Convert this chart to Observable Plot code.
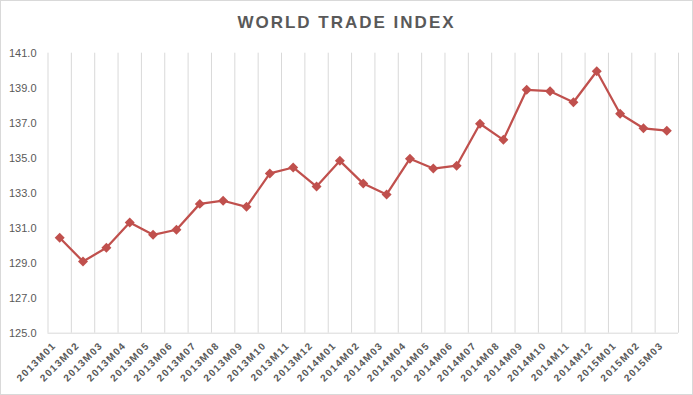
<!DOCTYPE html>
<html>
<head>
<meta charset="utf-8">
<script src="https://cdn.jsdelivr.net/npm/d3@7"></script>
<script src="https://cdn.jsdelivr.net/npm/@observablehq/plot@0.6"></script>
<style>
  html, body { margin: 0; padding: 0; background: #fff; }
  #wrap { position: relative; width: 693px; height: 395px; overflow: hidden; background: #fff; }
  #frame { position: absolute; left: 0; top: 0; width: 691px; height: 393px; border: 1px solid #d9d9d9; }
  #title { position: absolute; left: 0; top: 13px; width: 693px; text-align: center;
           font-family: "Liberation Sans", Arial, sans-serif; font-weight: bold; font-size: 17px;
           line-height: 20px; letter-spacing: 2px; color: #595959; }
  #chart { position: absolute; left: 0; top: 40px; }
</style>
</head>
<body>
<div id="wrap">
  <div id="frame"></div>
  <div id="title"></div>
  <div id="chart"></div>
</div>
<script>
const title = "WORLD TRADE INDEX";
const months = [
  "2013M01","2013M02","2013M03","2013M04","2013M05","2013M06","2013M07","2013M08","2013M09",
  "2013M10","2013M11","2013M12","2014M01","2014M02","2014M03","2014M04","2014M05","2014M06",
  "2014M07","2014M08","2014M09","2014M10","2014M11","2014M12","2015M01","2015M02","2015M03"
];
const values = [
  130.45, 129.10, 129.88, 131.33, 130.62, 130.91, 132.39, 132.57, 132.22,
  134.13, 134.47, 133.38, 134.85, 133.55, 132.93, 134.97, 134.41, 134.57,
  136.97, 136.05, 138.91, 138.83, 138.20, 139.97, 137.54, 136.71, 136.57
];
const yTicks = [125, 127, 129, 131, 133, 135, 137, 139, 141];

document.getElementById("title").textContent = title;

const data = months.map((m, i) => ({i, month: m, value: values[i]}));
const bounds = d3.range(months.length + 1).map(k => k - 0.5);
const red = "#c0504d";
const grey = "#595959";

const chart = Plot.plot({
  width: 693,
  height: 355,
  marginTop: 12.7,
  marginBottom: 62.3,
  marginLeft: 47.5,
  marginRight: 15,
  style: {fontFamily: "'Liberation Sans', Arial, sans-serif", background: "transparent", color: grey},
  x: {type: "linear", domain: [-0.5, months.length - 0.5], axis: null},
  y: {domain: [yTicks[0], yTicks[yTicks.length - 1]]},
  marks: [
    Plot.gridX(bounds, {stroke: "#d9d9d9", strokeOpacity: 1, strokeWidth: 1}),
    Plot.ruleY([yTicks[0]], {stroke: "#d9d9d9", strokeWidth: 1}),
    Plot.axisY(yTicks, {tickFormat: d => d.toFixed(1), tickSize: 0, tickPadding: 11.5,
                        fontSize: 11, fill: grey, label: null}),
    Plot.text(data, {x: "i", frameAnchor: "bottom", text: "month", rotate: -45, textAnchor: "end",
                     dx: -3, dy: 13, fontSize: 10, fontWeight: "bold", fill: grey}),
    Plot.line(data, {x: "i", y: "value", stroke: red, strokeWidth: 2.25}),
    Plot.dot(data, {x: "i", y: "value", symbol: "diamond2", r: 4.5, fill: red, stroke: "none"})
  ]
});
document.getElementById("chart").appendChild(chart);
chart.querySelectorAll('g[aria-label="text"] text').forEach(t => t.style.letterSpacing = "1.3px");
</script>
</body>
</html>
